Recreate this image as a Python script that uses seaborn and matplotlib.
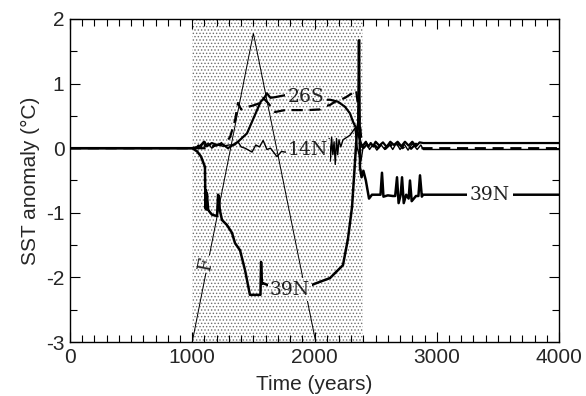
import numpy as np
import pandas as pd
import matplotlib
matplotlib.use("Agg")
import matplotlib.pyplot as plt
from matplotlib.ticker import MultipleLocator
import seaborn as sns

# ---------------- data ----------------
yr_39N = [0, 1000, 1040, 1072, 1104, 1108, 1112, 1116, 1120, 1130, 1140, 1162, 1203, 1211,
          1219, 1225, 1243, 1284, 1325, 1350, 1391, 1432, 1472, 1538, 1558, 1563, 1570, 1579,
          1620, 1700, 1800, 1906, 2000, 2127, 2233, 2274, 2307, 2323, 2339, 2348, 2358, 2364,
          2372, 2385, 2400, 2420, 2446, 2470, 2520, 2540, 2552, 2564, 2600, 2640, 2660, 2675,
          2688, 2705, 2716, 2730, 2750, 2770, 2781, 2795, 2830, 2850, 2863, 2878, 2888, 4000]
val_39N = [0, 0, -0.05, -0.13, -0.29, -0.93, -0.65, -0.95, -0.7, -0.95, -0.98, -1.03, -1.05, -0.72,
           -0.75, -0.95, -1.11, -1.19, -1.31, -1.47, -1.58, -1.89, -2.27, -2.27, -2.27, -1.76, -2.1, -2.09,
           -2.12, -2.15, -2.19, -2.18, -2.1, -2.01, -1.81, -1.4, -0.91, -0.45, 0.02, 0.28, 0.4, 1.67,
           -0.3, -0.45, -0.35, -0.5, -0.78, -0.72, -0.72, -0.72, -0.38, -0.75, -0.73, -0.74, -0.74, -0.45,
           -0.85, -0.72, -0.45, -0.85, -0.72, -0.78, -0.5, -0.82, -0.74, -0.74, -0.42, -0.75, -0.72, -0.72]

yr_26S = [0, 1000, 1060, 1100, 1120, 1160, 1200, 1250, 1292, 1309, 1374, 1448, 1489, 1530, 1560,
          1590, 1611, 1640, 1677, 1759, 1850, 1930, 2061, 2127, 2192, 2250, 2290, 2315, 2348, 2372,
          2388, 2400, 2420, 2440, 2460, 2480, 2500, 2530, 2560, 2590, 2620, 2650, 2680, 2710, 2740,
          2770, 2800, 2830, 2860, 2890, 4000]
val_26S = [0, 0, 0.03, 0.1, 0.03, 0.08, 0.05, 0.06, 0.0, 0.02, 0.1, 0.23, 0.41, 0.59, 0.72,
           0.78, 0.85, 0.78, 0.79, 0.82, 0.82, 0.79, 0.75, 0.75, 0.72, 0.64, 0.54, 0.41, 0.28, 0.13,
           0.02, 0.05, 0.1, 0.02, 0.08, 0.03, 0.1, 0.04, 0.09, 0.02, 0.1, 0.05, 0.1, 0.03, 0.1,
           0.04, 0.1, 0.03, 0.09, 0.08, 0.08]

yr_dash = [0, 1000, 1100, 1211, 1292, 1309, 1350, 1374, 1400, 1456, 1513, 1554, 1579, 1620, 1677,
           1759, 1850, 1950, 2045, 2070, 2127, 2168, 2250, 2307, 2340, 2358, 2370, 2385, 2400, 2430,
           2460, 2490, 2520, 2550, 2580, 2620, 2650, 2690, 2720, 2760, 2790, 2830, 2860, 2890, 4000]
val_dash = [0, 0, 0.0, 0.05, 0.13, 0.17, 0.43, 0.7, 0.6, 0.64, 0.67, 0.7, 0.78, 0.7, 0.56,
            0.59, 0.59, 0.59, 0.6, 0.64, 0.67, 0.72, 0.78, 0.85, 0.9, 0.64, 0.4, 0.1, 0.0, 0.06,
            -0.01, 0.05, 0.0, 0.07, -0.01, 0.06, 0.0, 0.07, 0.0, 0.06, -0.01, 0.07, 0.0, 0.0, 0.0]

yr_14N = [0, 1000, 1030, 1050, 1070, 1090, 1104, 1130, 1160, 1200, 1250, 1300, 1350, 1374, 1400,
          1432, 1489, 1520, 1550, 1580, 1611, 1640, 1693, 1730, 1759, 1947, 2090, 2100, 2110, 2120,
          2130, 2140, 2150, 2160, 2170, 2180, 2190, 2200, 2215, 2233, 2290, 2331, 2350, 2380, 2400,
          2425, 2450, 2480, 2510, 2545, 2575, 2610, 2640, 2670, 2700, 2735, 2765, 2800, 2840, 2870,
          2890, 4000]
val_14N = [0, 0, 0.0, 0.05, 0.0, 0.1, 0.02, 0.08, 0.0, 0.06, 0.03, 0.05, 0.05, 0.1, 0.02,
           0.0, -0.06, 0.05, 0.02, 0.12, -0.02, 0.0, -0.13, -0.05, -0.06, -0.03, -0.03, 0.1, -0.15, 0.15,
           -0.2, 0.17, -0.1, 0.1, -0.25, 0.15, -0.1, 0.13, 0.02, 0.13, 0.2, 0.31, 0.0, -0.2, 0.05,
           0.08, -0.02, 0.06, -0.03, 0.05, -0.02, 0.07, -0.02, 0.08, -0.02, 0.06, -0.03, 0.07, -0.02, 0.05,
           -0.02, -0.02]

yr_F = [1000, 1500, 2010]
val_F = [-3.0, 1.78, -3.0]

shade_start, shade_end = 1000, 2400
x_ticks = [0, 1000, 2000, 3000, 4000]
y_ticks = [-3, -2, -1, 0, 1, 2]

# ---------------- figure ----------------
sns.set_theme(style="ticks")
plt.rcParams["font.family"] = ["Liberation Sans", "DejaVu Sans"]
plt.rcParams["hatch.linewidth"] = 0.6
plt.rcParams["axes.unicode_minus"] = False

fig = plt.figure(figsize=(5.86, 3.96), dpi=100)
ax = fig.add_axes([70 / 586, 1 - 342 / 396, (559 - 70) / 586, (342 - 19) / 396])

ax.axvspan(shade_start, shade_end, facecolor="white", edgecolor="#6e6e6e",
           hatch=".....", linewidth=0, zorder=0)

def frame(x, y):
    return pd.DataFrame({"year": x, "sst": y})

sns.lineplot(data=frame(yr_F, val_F), x="year", y="sst", ax=ax, color="black",
             lw=0.7, sort=False, estimator=None, zorder=2)
sns.lineplot(data=frame(yr_14N, val_14N), x="year", y="sst", ax=ax, color="black",
             lw=1.0, sort=False, estimator=None, zorder=3)
sns.lineplot(data=frame(yr_dash, val_dash), x="year", y="sst", ax=ax, color="black",
             lw=1.6, sort=False, estimator=None, zorder=3, linestyle=(0, (5, 3)))
sns.lineplot(data=frame(yr_26S, val_26S), x="year", y="sst", ax=ax, color="black",
             lw=1.6, sort=False, estimator=None, zorder=4)
sns.lineplot(data=frame(yr_39N, val_39N), x="year", y="sst", ax=ax, color="black",
             lw=1.8, sort=False, estimator=None, zorder=4)

lab_font = dict(family="DejaVu Serif", fontsize=13.5, color="#222222", ha="center",
                va="center", zorder=6)
shade_box = dict(boxstyle="square,pad=0.12", facecolor="white", edgecolor="#6e6e6e",
                 hatch=".....", linewidth=0)
white_box = dict(boxstyle="square,pad=0.15", facecolor="white", edgecolor="none")
ax.text(1930, 0.79, "26S", bbox=shade_box, **lab_font)
ax.text(1947, -0.03, "14N", bbox=shade_box, **lab_font)
ax.text(1800, -2.19, "39N", bbox=shade_box, **lab_font)
ax.text(3435, -0.72, "39N", bbox=white_box, **lab_font)
ax.text(1112, -1.79, "F", rotation=79, bbox=shade_box, **lab_font)

ax.set_xlim(0, 4000)
ax.set_ylim(-3, 2)
ax.set_xticks(x_ticks)
ax.set_yticks(y_ticks)
ax.xaxis.set_minor_locator(MultipleLocator(100))
ax.yaxis.set_minor_locator(MultipleLocator(0.5))
ax.tick_params(which="both", direction="in", top=True, right=True, color="black",
               width=0.8, labelsize=15, pad=4)
ax.tick_params(which="major", length=7)
ax.tick_params(which="minor", length=5)
for sp in ax.spines.values():
    sp.set_color("black")
    sp.set_linewidth(1.0)
ax.set_xlabel("Time (years)", fontsize=15, labelpad=6)
ax.set_ylabel("SST anomaly (°C)", fontsize=15, labelpad=4)

fig.savefig("out.png", dpi=100)
